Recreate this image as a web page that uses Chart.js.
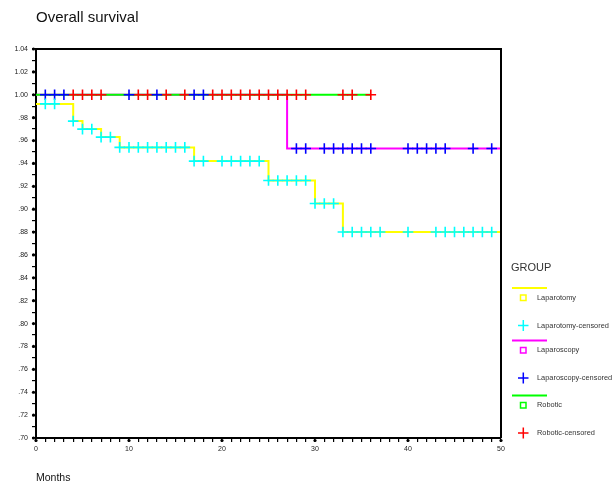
<!DOCTYPE html>
<html lang="en">
<head>
<meta charset="UTF-8" />
<title>Overall survival</title>
<script src="https://cdn.jsdelivr.net/npm/chart.js"></script>
<style>
    html, body { margin: 0; padding: 0; background: #fff; }
    .chart-container { position: relative; width: 616px; height: 484px; }
</style>
</head>
<body>
<div class="chart-container">
    <canvas id="kmChart"></canvas>
</div>

<script>
// survival steps (time where the level starts, level after that time)
const lapTimes = [0, 4, 5, 7, 9, 17, 25, 30, 33, 50];
const lapSurv = [0.992, 0.977, 0.970, 0.963, 0.954, 0.942, 0.925, 0.905, 0.880, 0.880];
const lscTimes = [0, 27, 50];
const lscSurv = [1.00, 0.953, 0.953];
const robTimes = [0, 36];
const robSurv = [1.00, 1.00];

// censored months
const lapCensored = [1, 2, 4, 5, 6, 7, 8, 9, 10, 11, 12, 13, 14, 15, 16, 17, 18, 20, 21, 22, 23, 24,
    25, 26, 27, 28, 29, 30, 31, 32, 33, 34, 35, 36, 37, 40, 43, 44, 45, 46, 47, 48, 49];
const lscCensored = [1, 2, 3, 10, 13, 17, 18, 28, 29, 31, 32, 33, 34, 35, 36, 40, 41, 42, 43, 44, 47, 49];
const robCensored = [4, 5, 6, 7, 11, 12, 14, 16, 19, 20, 21, 22, 23, 24, 25, 26, 27, 28, 29, 33, 34, 36];

const groups = ['Laparotomy', 'Laparoscopy', 'Robotic'];
const lineColors = ['#ffff00', '#ff00ff', '#00ff00'];
const censorColors = ['#00ffff', '#0000ff', '#ff0000'];

function levelAt(times, surv, t) {
    let s = surv[0];
    for (let i = 0; i < times.length; i++) {
        if (t >= times[i]) s = surv[i];
    }
    return s;
}
const steps = (times, surv) => times.map((t, i) => ({ x: t, y: surv[i] }));
const marks = (cens, times, surv) => cens.map(t => ({ x: t, y: levelAt(times, surv, t) }));

const fmtY = v => {
    const n = Math.round(v * 100);
    if (n % 2) return '';
    return n >= 100 ? (n / 100).toFixed(2) : '.' + n;
};

const extras = {
    id: 'extras',
    afterDraw(chart) {
        const { ctx, chartArea: a, scales } = chart;
        ctx.save();
        ctx.strokeStyle = '#000';
        ctx.lineWidth = 2;
        ctx.beginPath();
        ctx.moveTo(a.left, a.top);
        ctx.lineTo(a.right, a.top);
        ctx.lineTo(a.right, a.bottom);
        ctx.stroke();

        // dots on major ticks
        ctx.fillStyle = '#000';
        for (let n = 70; n <= 104; n += 2) {
            const y = scales.y.getPixelForValue(n / 100);
            ctx.beginPath();
            ctx.arc(a.left - 2.5, y, 1.6, 0, Math.PI * 2);
            ctx.fill();
        }
        for (let t = 0; t <= 50; t += 10) {
            const x = scales.x.getPixelForValue(t);
            ctx.beginPath();
            ctx.arc(x, a.bottom + 2.5, 1.6, 0, Math.PI * 2);
            ctx.fill();
        }

        ctx.fillStyle = '#111';
        ctx.textBaseline = 'middle';
        ctx.textAlign = 'left';
        ctx.font = '15px "Liberation Sans", Arial, sans-serif';
        ctx.fillText('Overall survival', 36, 18);
        ctx.font = '10.5px "Liberation Sans", Arial, sans-serif';
        ctx.fillText('Months', 36, 478);

        // legend
        ctx.font = '11px "Liberation Sans", Arial, sans-serif';
        ctx.fillStyle = '#333';
        ctx.fillText('GROUP', 511, 268);
        ctx.font = '7.4px "Liberation Sans", Arial, sans-serif';
        const rowY = [288, 340.5, 395.5];
        groups.forEach((g, i) => {
            const y0 = rowY[i];
            ctx.strokeStyle = lineColors[i];
            ctx.lineWidth = 2;
            ctx.beginPath();
            ctx.moveTo(512, y0);
            ctx.lineTo(547, y0);
            ctx.stroke();
            ctx.lineWidth = 1.5;
            ctx.strokeRect(520.5, y0 + 7, 5.5, 5.5);
            ctx.fillStyle = '#333';
            ctx.fillText(g, 537, y0 + 9.5);

            const yc = y0 + 37.5;
            ctx.strokeStyle = censorColors[i];
            ctx.lineWidth = 1.5;
            ctx.beginPath();
            ctx.moveTo(518, yc);
            ctx.lineTo(528.5, yc);
            ctx.moveTo(523.3, yc - 5.5);
            ctx.lineTo(523.3, yc + 5.5);
            ctx.stroke();
            ctx.fillText(g + '-censored', 537, yc);
        });
        ctx.restore();
    }
};

const datasets = [];
const allTimes = [lapTimes, lscTimes, robTimes];
const allSurv = [lapSurv, lscSurv, robSurv];
const allCens = [lapCensored, lscCensored, robCensored];
groups.forEach((g, i) => {
    datasets.push({
        type: 'scatter',
        label: g + '-censored',
        data: marks(allCens[i], allTimes[i], allSurv[i]),
        pointStyle: 'cross',
        pointRadius: 5.3,
        pointBorderWidth: 1.6,
        borderColor: censorColors[i],
        backgroundColor: censorColors[i],
        order: 1
    });
});
// green drawn above magenta, magenta above yellow
[0, 1, 2].forEach(i => {
    datasets.push({
        type: 'line',
        label: groups[i],
        data: steps(allTimes[i], allSurv[i]),
        stepped: true,
        borderColor: lineColors[i],
        borderWidth: 2,
        pointRadius: 0,
        fill: false,
        order: 4 - i
    });
});

new Chart(document.getElementById('kmChart'), {
    data: { datasets },
    options: {
        responsive: true,
        maintainAspectRatio: false,
        animation: false,
        events: [],
        layout: { padding: { left: 0, top: 49, right: 115, bottom: 26 } },
        plugins: {
            legend: { display: false },
            title: { display: false },
            tooltip: { enabled: false }
        },
        scales: {
            x: {
                type: 'linear',
                min: 0,
                max: 50,
                afterFit: s => { s.height = 20; },
                ticks: {
                    stepSize: 1,
                    autoSkip: false,
                    maxRotation: 0,
                    padding: 3,
                    color: '#222',
                    font: { family: '"Liberation Sans", Arial, sans-serif', size: 7 },
                    callback: v => (v % 10 === 0 ? String(v) : '')
                },
                grid: { drawOnChartArea: false, tickLength: 4, color: '#000', lineWidth: 1.2 },
                border: { color: '#000', width: 2 }
            },
            y: {
                type: 'linear',
                min: 0.70,
                max: 1.04,
                afterFit: s => { s.width = 36; },
                ticks: {
                    stepSize: 0.01,
                    autoSkip: false,
                    padding: 4,
                    color: '#222',
                    font: { family: '"Liberation Sans", Arial, sans-serif', size: 7 },
                    callback: fmtY
                },
                grid: { drawOnChartArea: false, tickLength: 4, color: '#000', lineWidth: 1.2 },
                border: { color: '#000', width: 2 }
            }
        }
    },
    plugins: [extras]
});
</script>
</body>
</html>
